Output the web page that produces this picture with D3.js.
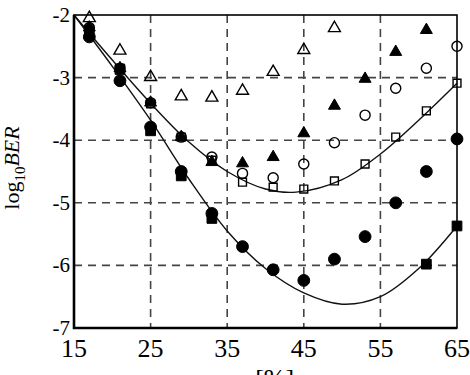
<!DOCTYPE html>
<html>
<head>
<meta charset="utf-8">
<script src="https://cdn.jsdelivr.net/npm/d3@7"></script>
<style>
  body { margin: 0; background: #fff; }
  svg { display: block; font-family: "Liberation Serif", "DejaVu Serif", serif; }
</style>
</head>
<body>
<script>
(function(){

// x positions of the measured points (m in %)
var mValues = [17, 21, 25, 29, 33, 37, 41, 45, 49, 53, 57, 61, 65];

// series values, log10 BER (null = no point)
var openTriangle   = [-2.05, -2.57, -2.99, -3.30, -3.32, -3.21, -2.91, -2.56, -2.21, null, null, null, null];
var filledTriangle = [-2.20, -2.85, -3.40, -3.95, -4.35, -4.37, -4.27, -3.89, -3.45, -3.02, -2.59, -2.24, null];
var openCircle     = [-2.20, -2.85, -3.40, -3.95, -4.27, -4.53, -4.60, -4.38, -4.04, -3.60, -3.17, -2.85, -2.50];
var openSquare     = [-2.22, -2.85, -3.42, -3.95, -4.32, -4.67, -4.75, -4.78, -4.65, -4.38, -3.95, -3.53, -3.09];
var filledCircle   = [-2.35, -3.05, -3.79, -4.50, -5.17, -5.70, -6.07, -6.24, -5.90, -5.54, -5.00, -4.50, -3.98];
var filledSquare   = [-2.30, -2.87, -3.85, -4.57, -5.25, null, null, null, null, null, null, -5.98, -5.37];

// the two fitted curves
var upperCurveX = [15, 20, 25, 30, 35, 40, 44, 50, 55, 60, 65];
var upperCurveY = [-2.0, -2.72, -3.41, -4.03, -4.5, -4.78, -4.83, -4.63, -4.22, -3.68, -3.09];
var lowerCurveX = [15, 20, 25, 30, 35, 40, 45, 50, 55, 60, 65];
var lowerCurveY = [-2.0, -2.82, -3.68, -4.62, -5.45, -6.05, -6.44, -6.62, -6.5, -6.05, -5.37];

// tick labels
var xTicks = [15, 25, 35, 45, 55, 65];
var yTicks = [-2, -3, -4, -5, -6, -7];

var width = 470, height = 375;
var left = 74, right = 457, top = 15, bottom = 328;

var svg = d3.select("body")
    .append("svg")
    .attr("width", width)
    .attr("height", height);

var x = d3.scaleLinear().domain([15, 65]).range([left, right]);
var y = d3.scaleLinear().domain([-7, -2]).range([bottom, top]);

//dashed grid
svg.selectAll(".gridX")
    .data(xTicks.slice(1, -1))
    .enter()
    .append("line")
    .attr("x1", function(d){ return x(d); })
    .attr("x2", function(d){ return x(d); })
    .attr("y1", top)
    .attr("y2", bottom)
    .attr("stroke", "#444")
    .attr("stroke-width", 1.6)
    .attr("stroke-dasharray", "8,6");

svg.selectAll(".gridY")
    .data(yTicks.slice(1, -1))
    .enter()
    .append("line")
    .attr("y1", function(d){ return y(d); })
    .attr("y2", function(d){ return y(d); })
    .attr("x1", left)
    .attr("x2", right)
    .attr("stroke", "#444")
    .attr("stroke-width", 1.6)
    .attr("stroke-dasharray", "8,6");

//fitted curves
var line = d3.line()
    .x(function(d){ return x(d[0]); })
    .y(function(d){ return y(d[1]); })
    .curve(d3.curveCatmullRom);

svg.append("path")
    .datum(d3.zip(upperCurveX, upperCurveY))
    .attr("d", line)
    .attr("fill", "none")
    .attr("stroke", "#111")
    .attr("stroke-width", 1.4);

svg.append("path")
    .datum(d3.zip(lowerCurveX, lowerCurveY))
    .attr("d", line)
    .attr("fill", "none")
    .attr("stroke", "#111")
    .attr("stroke-width", 1.4);

//markers
function drawMarkers(values, type, size, filled) {
    var pts = mValues.map(function(m, i){ return [m, values[i]]; })
        .filter(function(d){ return d[1] !== null; });
    svg.append("g")
        .selectAll("path")
        .data(pts)
        .enter()
        .append("path")
        .attr("transform", function(d){
            return "translate(" + x(d[0]) + "," + y(d[1]) + ")";
        })
        .attr("d", d3.symbol().type(type).size(size))
        .attr("fill", filled ? "#000" : "#fff")
        .attr("fill-opacity", filled ? 1 : 0)
        .attr("stroke", "#000")
        .attr("stroke-width", filled ? 1 : 1.4);
}

drawMarkers(openTriangle, d3.symbolTriangle, 62, false);
drawMarkers(openCircle, d3.symbolCircle, 80, false);
drawMarkers(openSquare, d3.symbolSquare, 62, false);
drawMarkers(filledTriangle, d3.symbolTriangle, 62, true);
drawMarkers(filledCircle, d3.symbolCircle, 110, true);
drawMarkers(filledSquare, d3.symbolSquare, 95, true);

//frame
svg.append("rect")
    .attr("x", left)
    .attr("y", top)
    .attr("width", right - left)
    .attr("height", bottom - top)
    .attr("fill", "none")
    .attr("stroke", "#000")
    .attr("stroke-width", 1.6);

svg.append("path")
    .attr("d", "M" + left + "," + top + "V" + bottom + "H" + right)
    .attr("fill", "none")
    .attr("stroke", "#000")
    .attr("stroke-width", 2.6);

//tick labels
svg.selectAll(".xLabel")
    .data(xTicks)
    .enter()
    .append("text")
    .attr("x", function(d){ return x(d); })
    .attr("y", 357)
    .attr("text-anchor", "middle")
    .style("font-size", "26px")
    .text(function(d){ return d; });

svg.selectAll(".yLabel")
    .data(yTicks)
    .enter()
    .append("text")
    .attr("x", 70)
    .attr("y", function(d){ return y(d) + 7; })
    .attr("text-anchor", "end")
    .style("font-size", "21px")
    .text(function(d){ return "-" + Math.abs(d); });

//axis titles
var xTitle = svg.append("text")
    .attr("x", 262)
    .attr("y", 387)
    .attr("text-anchor", "middle")
    .style("font-size", "26px");
xTitle.append("tspan").style("font-style", "italic").text("m");
xTitle.append("tspan").text(" [%]");

var yTitle = svg.append("text")
    .attr("transform", "translate(19,168) rotate(-90)")
    .attr("text-anchor", "middle")
    .style("font-size", "22px");
yTitle.append("tspan").text("log");
yTitle.append("tspan").attr("dy", 6).style("font-size", "15px").text("10");
yTitle.append("tspan").attr("dy", -6).style("font-style", "italic").text("BER");

})();
</script>
</body>
</html>
